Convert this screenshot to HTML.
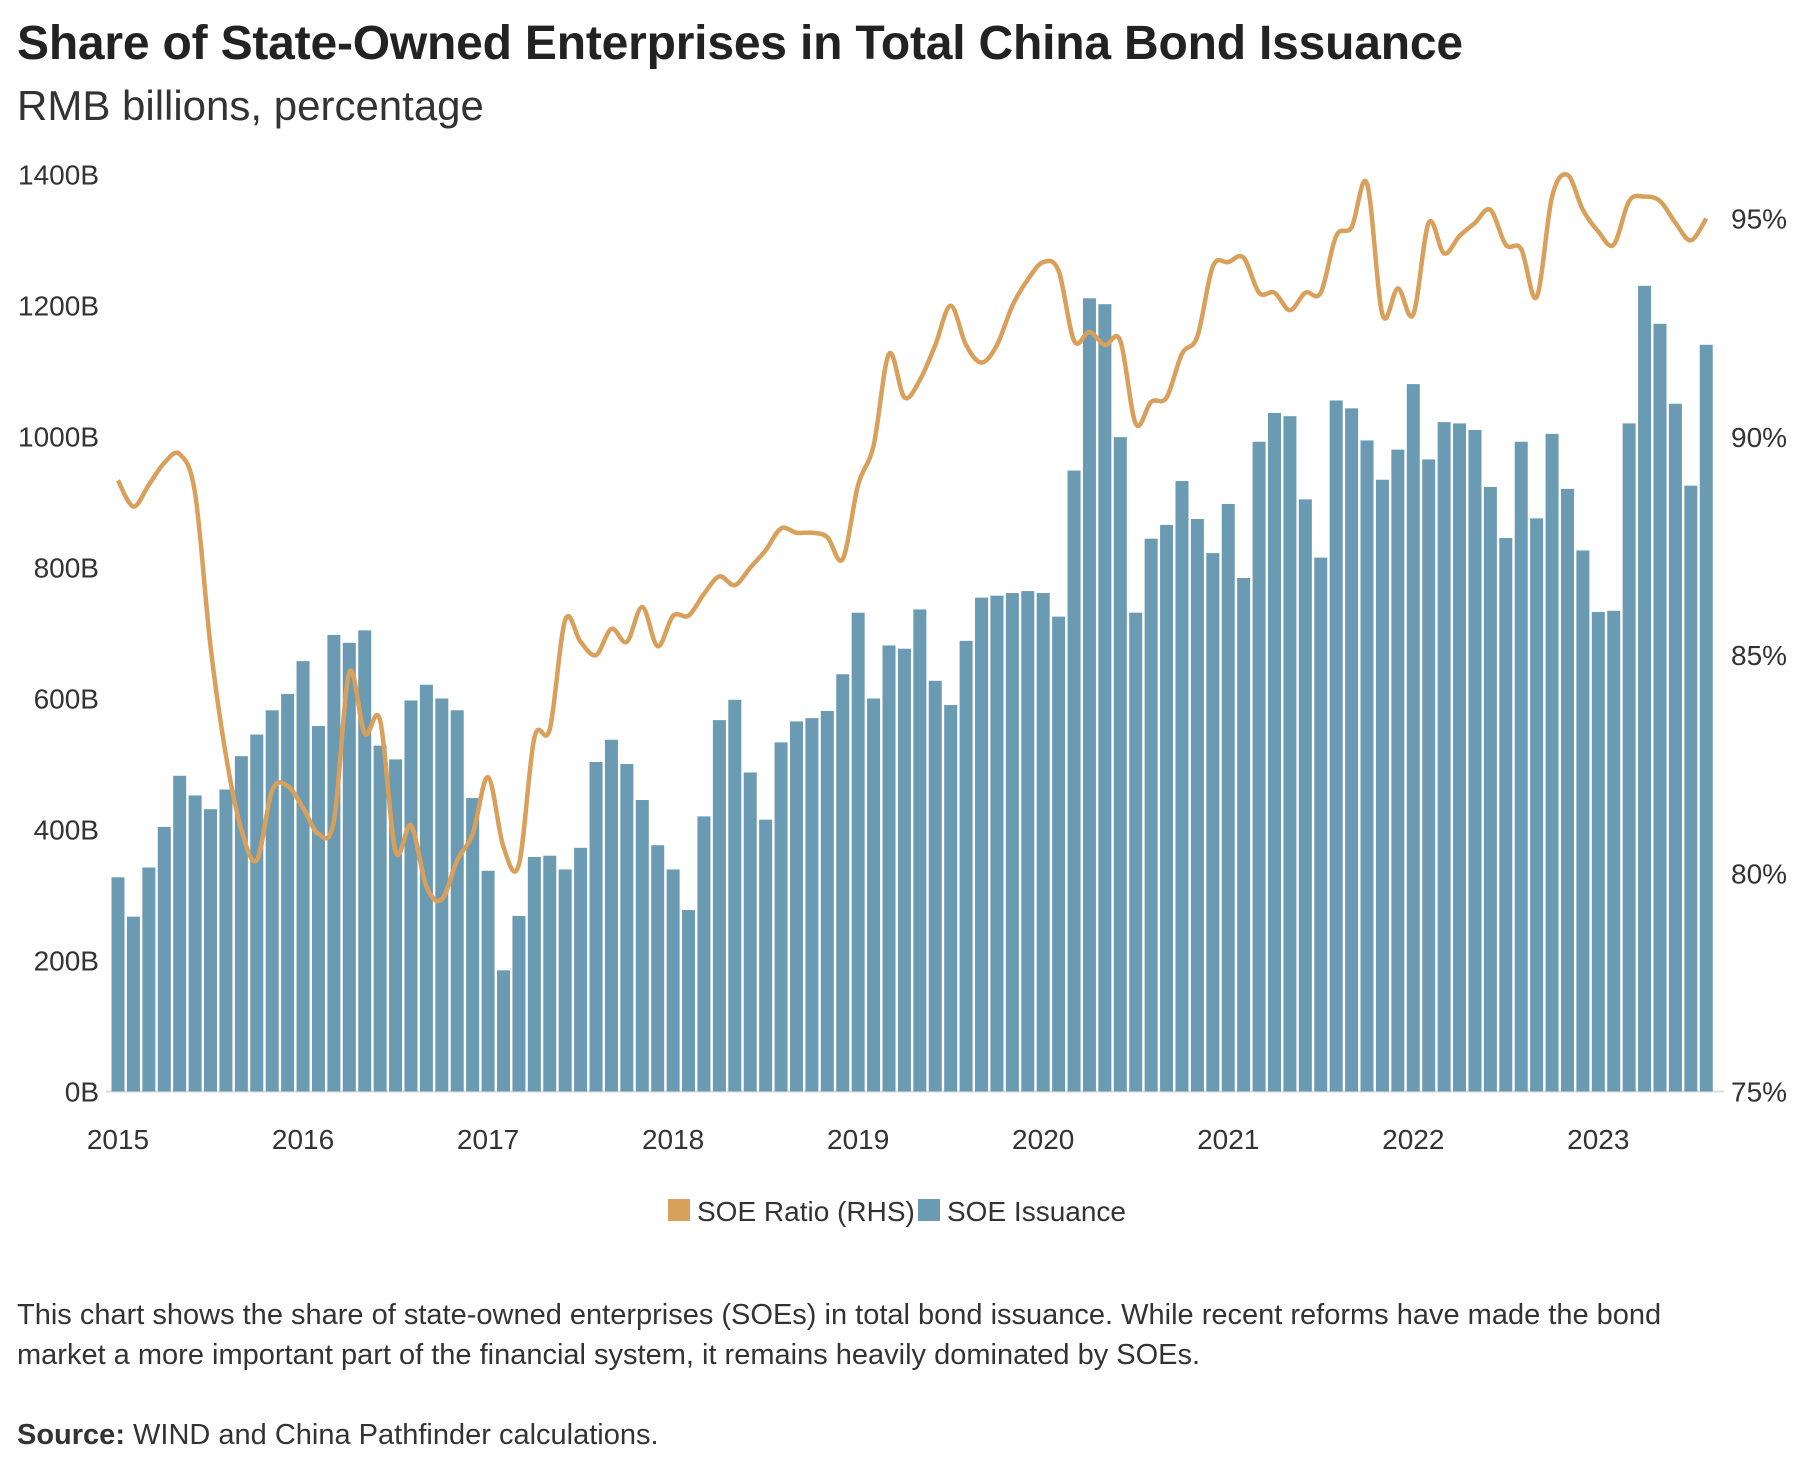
<!DOCTYPE html>
<html><head><meta charset="utf-8">
<style>
body{margin:0;background:#fff;width:1813px;height:1473px;overflow:hidden;font-family:"Liberation Sans",sans-serif;color:#222}
#title{position:absolute;left:17px;top:16px;font-size:48px;font-weight:bold;letter-spacing:-0.2px}
#sub{position:absolute;left:17px;top:82px;font-size:42px;color:#333}
#note{position:absolute;left:17px;top:1295px;font-size:29px;line-height:40px;color:#333;width:1790px;white-space:nowrap}
#src{position:absolute;left:17px;top:1419px;font-size:29px;color:#333}
svg{position:absolute;left:0;top:0}
</style></head><body>
<div id="title">Share of State-Owned Enterprises in Total China Bond Issuance</div>
<div id="sub">RMB billions, percentage</div>
<svg id="chart" width="1813" height="1473"></svg>
<div id="note">This chart shows the share of state-owned enterprises (SOEs) in total bond issuance. While recent reforms have made the bond<br>market a more important part of the financial system, it remains heavily dominated by SOEs.</div>
<div id="src"><b>Source:</b> WIND and China Pathfinder calculations.</div>
<script>
const years = ["2015","2016","2017","2018","2019","2020","2021","2022","2023"];
const leftTicks = [0,200,400,600,800,1000,1200,1400];
const rightTicks = [75,80,85,90,95];
const issuance = [327,267,342,404,482,452,431,461,512,545,582,607,
657,558,697,685,704,528,507,597,621,600,582,448,
337,185,268,358,360,339,372,503,537,500,445,376,
339,277,420,567,598,487,415,533,565,570,581,637,
731,600,681,676,736,627,590,688,754,757,761,764,
761,725,948,1211,1202,999,731,844,865,932,874,822,
897,784,992,1036,1031,904,815,1055,1043,994,934,980,
1080,965,1022,1020,1010,923,845,992,875,1004,920,826,
732,734,1020,1230,1172,1050,925,1140];
const ratio = [89.0,88.4,88.9,89.4,89.6,88.7,85.2,82.7,81.0,80.3,81.9,82.0,
81.5,80.9,81.2,84.6,83.2,83.5,80.5,81.1,79.7,79.4,80.3,80.9,
82.2,80.6,80.2,83.1,83.3,85.8,85.3,85.0,85.6,85.3,86.1,85.2,
85.9,85.9,86.4,86.8,86.6,87.0,87.4,87.9,87.8,87.8,87.7,87.2,
88.9,89.8,91.9,90.9,91.3,92.1,93.0,92.1,91.7,92.1,93.0,93.6,
94.0,93.8,92.2,92.4,92.1,92.2,90.3,90.8,90.9,91.9,92.3,93.9,
94.0,94.1,93.3,93.3,92.9,93.3,93.3,94.6,94.8,95.8,92.8,93.4,
92.8,94.9,94.2,94.6,94.9,95.2,94.4,94.3,93.2,95.5,96.0,95.2,
94.7,94.4,95.4,95.5,95.4,94.9,94.5,95.0];

const NS="http://www.w3.org/2000/svg";
const svg=document.getElementById('chart');
const x0=118, step=15.42, barW=13;
const yL=v=>1091.5-v*(917/1400);
const yR=p=>1091.5-(p-75)*(873/20);
const xM=i=>x0+i*step;
function mk(t,a){const e=document.createElementNS(NS,t);for(const k in a)e.setAttribute(k,a[k]);svg.appendChild(e);return e;}

const base=mk('line',{x1:106,x2:1724,y1:1091.5,y2:1091.5,stroke:'#ddd','stroke-width':2});



leftTicks.forEach(v=>{
  const t=mk('text',{x:99,y:yL(v)+10,'text-anchor':'end','font-size':28,fill:'#333'});
  t.textContent=v+'B';
  
  
});
rightTicks.forEach(p=>{
  const t=mk('text',{x:1731,y:yR(p)+10,'font-size':28,fill:'#333'});
  t.textContent=p+'%';
  
  
});
years.forEach((y,i)=>{
  const t=mk('text',{x:xM(i*12),y:1149,'text-anchor':'middle','font-size':28,fill:'#333'});
  t.textContent=y;
  
  
});

issuance.forEach((v,i)=>{
  const r=mk('rect',{x:xM(i)-barW/2,y:yL(v),width:barW,height:1091.5-yL(v),fill:'#6b9ab3'});
  
  
});

const pts=ratio.map((p,i)=>[xM(i),yR(p)]);
let d='M'+pts[0][0]+','+pts[0][1];
for(let i=0;i<pts.length-1;i++){
  const p0=pts[Math.max(0,i-1)],p1=pts[i],p2=pts[i+1],p3=pts[Math.min(pts.length-1,i+2)];
  const c1=[p1[0]+(p2[0]-p0[0])/6,p1[1]+(p2[1]-p0[1])/6];
  const c2=[p2[0]-(p3[0]-p1[0])/6,p2[1]-(p3[1]-p1[1])/6];
  d+=' C'+c1+' '+c2+' '+p2;
}
const line=mk('path',{d:d,fill:'none',stroke:'#d9a05b','stroke-width':4.5,'stroke-linejoin':'round'});



const lg1=mk('rect',{x:668,y:1199,width:22,height:22,fill:'#d9a05b'});


const lt1=mk('text',{x:697,y:1221,'font-size':28,fill:'#333'});
lt1.textContent='SOE Ratio (RHS)';


const lg2=mk('rect',{x:918,y:1199,width:22,height:22,fill:'#6b9ab3'});


const lt2=mk('text',{x:947,y:1221,'font-size':28,fill:'#333'});
lt2.textContent='SOE Issuance';


</script>
</body></html>
